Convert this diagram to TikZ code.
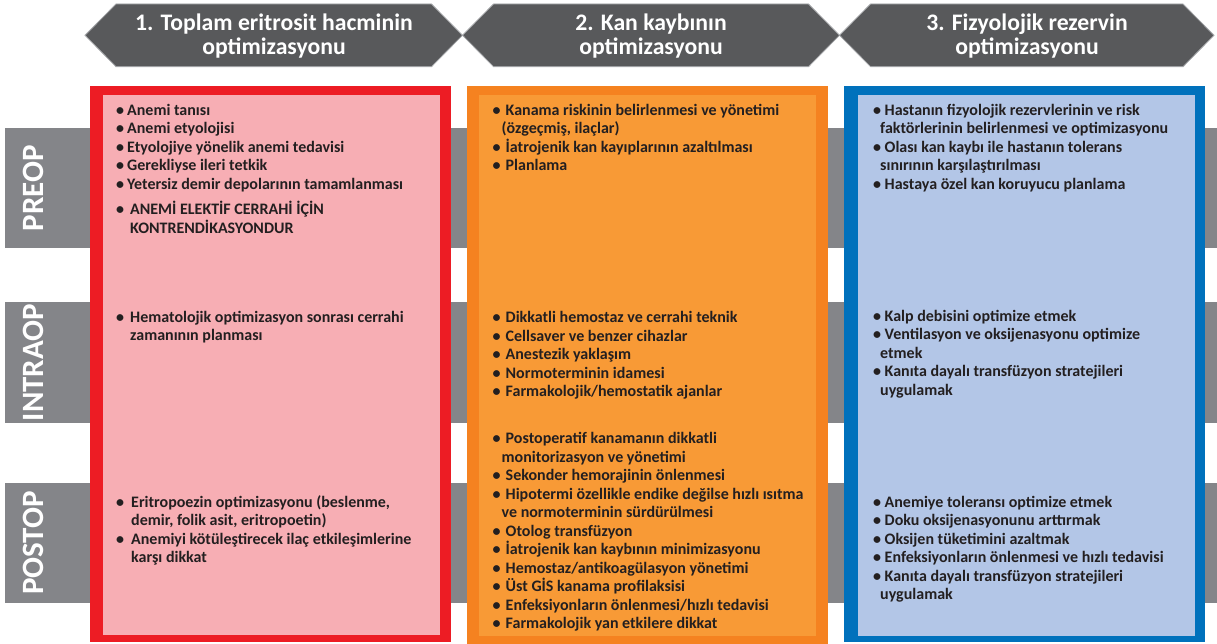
\documentclass[tikz,border=0pt]{standalone}
\usepackage{fontspec}
\setmainfont{Carlito}
\definecolor{txt}{HTML}{231F20}
\definecolor{hdrfill}{HTML}{58595B}
\definecolor{hdrline}{HTML}{A7A9AC}
\definecolor{band}{HTML}{848589}
\definecolor{redB}{HTML}{ED1C24}
\definecolor{redF}{HTML}{F7AEB4}
\definecolor{oraB}{HTML}{F58220}
\definecolor{oraF}{HTML}{F89A36}
\definecolor{bluB}{HTML}{0071BC}
\definecolor{bluF}{HTML}{B3C6E7}
\newcommand{\bul}[1]{\makebox[#1][l]{•}}
\newcommand{\fs}{\rule{0pt}{14pt}}
\newcommand{\hs}{\rule{0pt}{20pt}}
\tikzset{
  cell/.style={anchor=north west, inner sep=0pt, align=left, text=txt,
    font=\bfseries\fontsize{16}{18.5}\selectfont},
  hdr/.style={text=white, align=center, inner sep=0pt, anchor=north,
    font=\bfseries\fontsize{23.7}{24}\selectfont},
  rowlab/.style={text=white, rotate=90, inner sep=0pt,
    font=\bfseries\fontsize{31}{31}\selectfont},
  hexa/.style={fill=hdrfill, draw=hdrline, line width=0.8pt},
}
\begin{document}
\begin{tikzpicture}[x=1pt,y=-1pt]
\useasboundingbox (0,0) rectangle (1217,644);
% header hexagons
\draw[hexa] (85,35.3) -- (116,4) -- (431.5,4) -- (462.5,35.3) -- (431.5,66.7) -- (116,66.7) -- cycle;
\draw[hexa] (462.5,35.3) -- (493.5,4) -- (808.5,4) -- (839.5,35.3) -- (808.5,66.7) -- (493.5,66.7) -- cycle;
\draw[hexa] (839.5,35.3) -- (870.5,4) -- (1183,4) -- (1214,35.3) -- (1183,66.7) -- (870.5,66.7) -- cycle;
\node[hdr] (h1) at (274,10) {\hs 1. Toplam eritrosit hacminin\\optimizasyonu};
\node[hdr] (h2) at (651,10) {\hs 2. Kan kaybının\\optimizasyonu};
\node[hdr] (h3) at (1027,10) {\hs 3. Fizyolojik rezervin\\optimizasyonu};
% gray bands
\fill[band] (5,128) rectangle (1217,248);
\fill[band] (5,302) rectangle (1217,423);
\fill[band] (5,483) rectangle (1217,603);
\node[rowlab] (r1) at (33,188) {PREOP};
\node[rowlab] (r2) at (33,362.5) {INTRAOP};
\node[rowlab] (r3) at (33,543) {POSTOP};
% column boxes
\fill[redB] (90,86) rectangle (451,642);
\fill[redF] (103,95) rectangle (440,635);
\fill[oraB] (467,86) rectangle (828,644);
\fill[oraF] (479,95) rectangle (816,636);
\fill[bluB] (844,86) rectangle (1205,642);
\fill[bluF] (858,95) rectangle (1195,636);
% red column
\node[cell] (a1) at (116,101) {\fs\bul{11pt}Anemi tanısı\\
\bul{11pt}Anemi etyolojisi\\
\bul{11pt}Etyolojiye yönelik anemi tedavisi\\
\bul{11pt}Gerekliyse ileri tetkik\\
\bul{11pt}Yetersiz demir depolarının tamamlanması};
\node[cell] (a2) at (116,200.5) {\fs\bul{14pt}ANEMİ ELEKTİF CERRAHİ İÇİN\\
\hspace*{14pt}KONTRENDİKASYONDUR};
\node[cell] (a3) at (116,308) {\fs\bul{14pt}Hematolojik optimizasyon sonrası cerrahi\\
\hspace*{14pt}zamanının planması};
\node[cell] (a4) at (116,493) {\fs\bul{15pt}Eritropoezin optimizasyonu (beslenme,\\
\hspace*{15pt}demir, folik asit, eritropoetin)\\
\bul{15pt}Anemiyi kötüleştirecek ilaç etkileşimlerine\\
\hspace*{15pt}karşı dikkat};
% orange column
\node[cell] (b1) at (492.5,101) {\fs\bul{13pt}Kanama riskinin belirlenmesi ve yönetimi\\
\hspace*{9pt}(özgeçmiş, ilaçlar)\\
\bul{13pt}İatrojenik kan kayıplarının azaltılması\\
\bul{13pt}Planlama};
\node[cell] (b2) at (492.5,308.5) {\fs\bul{13pt}Dikkatli hemostaz ve cerrahi teknik\\
\bul{13pt}Cellsaver ve benzer cihazlar\\
\bul{13pt}Anestezik yaklaşım\\
\bul{13pt}Normoterminin idamesi\\
\bul{13pt}Farmakolojik/hemostatik ajanlar};
\node[cell] (b3) at (492.5,429.5) {\fs\bul{13pt}Postoperatif kanamanın dikkatli\\
\hspace*{9pt}monitorizasyon ve yönetimi\\
\bul{13pt}Sekonder hemorajinin önlenmesi\\
\bul{13pt}Hipotermi özellikle endike değilse hızlı ısıtma\\
\hspace*{9pt}ve normoterminin sürdürülmesi\\
\bul{13pt}Otolog transfüzyon\\
\bul{13pt}İatrojenik kan kaybının minimizasyonu\\
\bul{13pt}Hemostaz/antikoagülasyon yönetimi\\
\bul{13pt}Üst GİS kanama profilaksisi\\
\bul{13pt}Enfeksiyonların önlenmesi/hızlı tedavisi\\
\bul{13pt}Farmakolojik yan etkilere dikkat};
% blue column
\node[cell] (c1) at (873,101) {\fs\bul{11.5pt}Hastanın fizyolojik rezervlerinin ve risk\\
\hspace*{7pt}faktörlerinin belirlenmesi ve optimizasyonu\\
\bul{11.5pt}Olası kan kaybı ile hastanın tolerans\\
\hspace*{7pt}sınırının karşılaştırılması\\
\bul{11.5pt}Hastaya özel kan koruyucu planlama};
\node[cell] (c2) at (873,307) {\fs\bul{11.5pt}Kalp debisini optimize etmek\\
\bul{11.5pt}Ventilasyon ve oksijenasyonu optimize\\
\hspace*{7pt}etmek\\
\bul{11.5pt}Kanıta dayalı transfüzyon stratejileri\\
\hspace*{7pt}uygulamak};
\node[cell] (c3) at (873,493) {\fs\bul{11.5pt}Anemiye toleransı optimize etmek\\
\bul{11.5pt}Doku oksijenasyonunu arttırmak\\
\bul{11.5pt}Oksijen tüketimini azaltmak\\
\bul{11.5pt}Enfeksiyonların önlenmesi ve hızlı tedavisi\\
\bul{11.5pt}Kanıta dayalı transfüzyon stratejileri\\
\hspace*{7pt}uygulamak};
\end{tikzpicture}
\end{document}
